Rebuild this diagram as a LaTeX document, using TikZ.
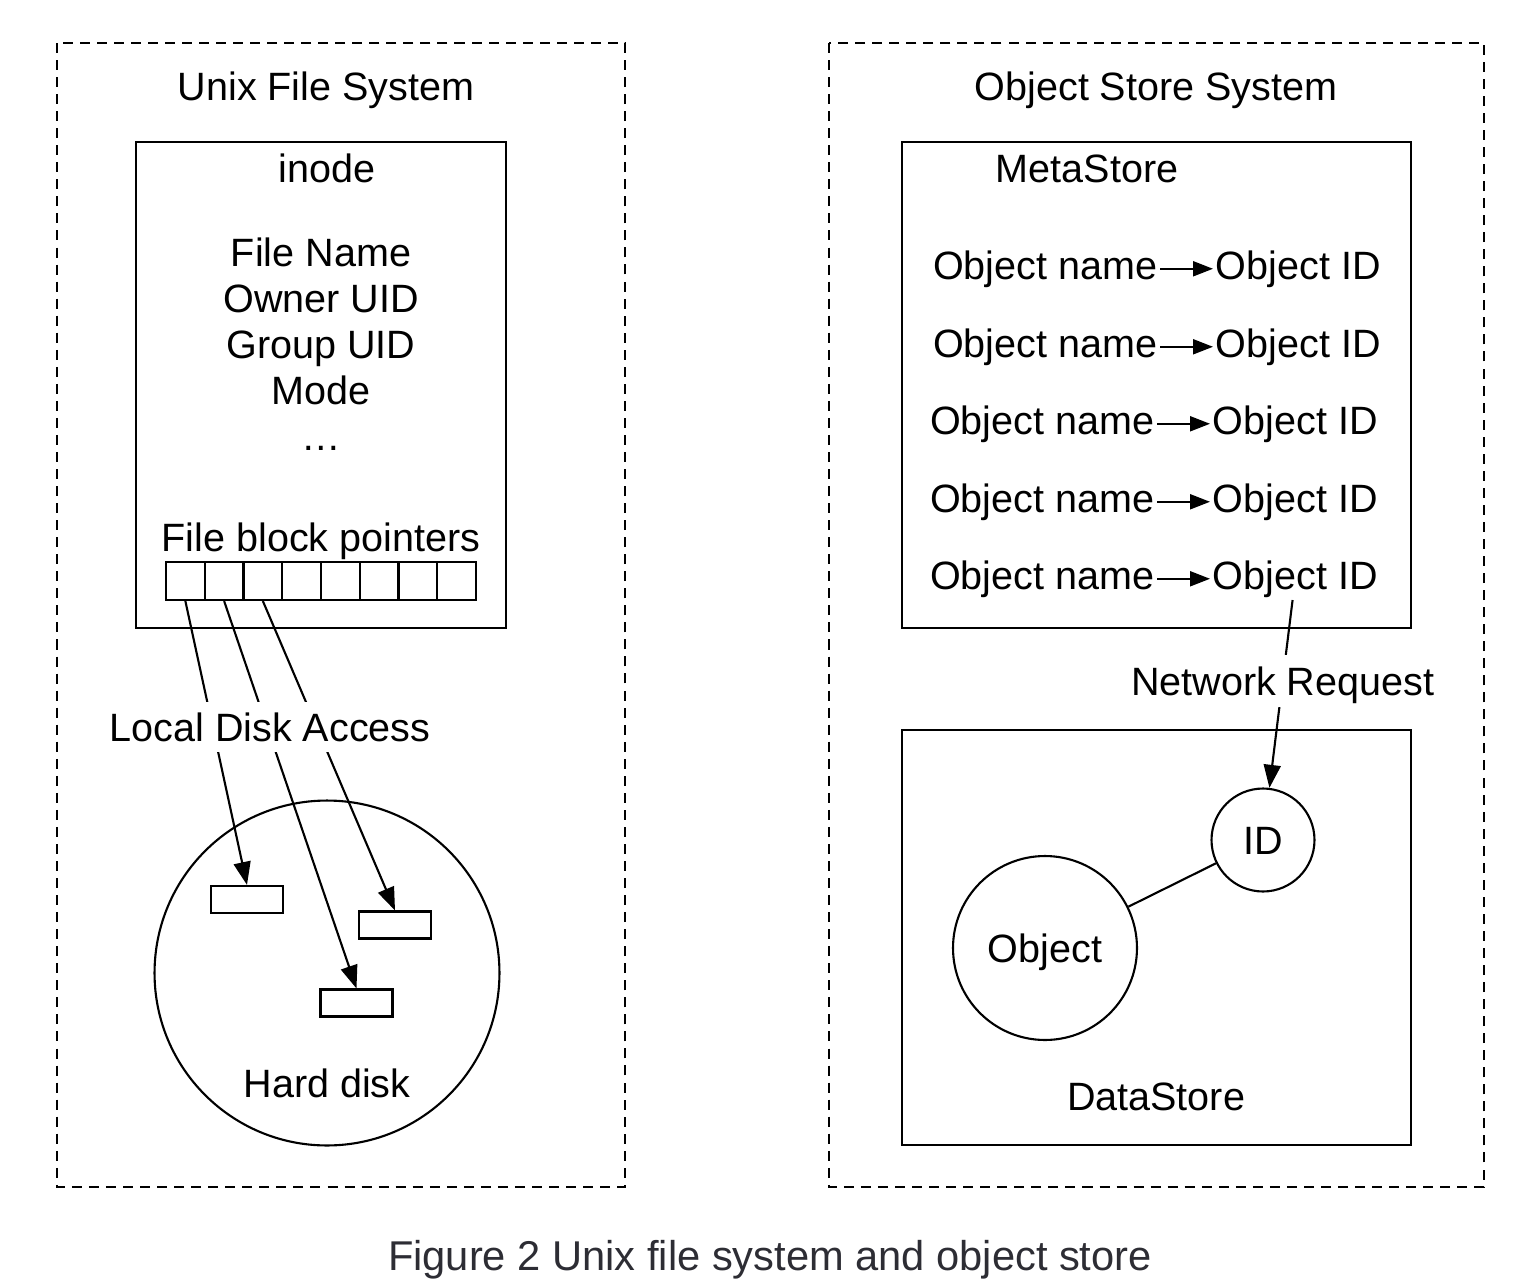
\documentclass[tikz,border=0pt]{standalone}
\usepackage{fontspec}
\setmainfont{Liberation Sans}
\usepackage{tikz}
\usetikzlibrary{arrows.meta}
\definecolor{captiongray}{RGB}{45,45,52}

\begin{document}
\begin{tikzpicture}[x=0.02cm, y=-0.02cm, line width=1.2pt,
    font=\fontsize{22.5}{27}\selectfont,
    lbl/.style={anchor=base, inner sep=1pt},
    box/.style={draw, rectangle, inner sep=0pt},
    cell/.style={draw, rectangle, inner sep=0pt, minimum width=0.775cm, minimum height=0.76cm},
    blk/.style={draw, rectangle, inner sep=0pt, minimum width=1.44cm, minimum height=0.54cm},
    ring/.style={draw, circle, inner sep=0pt, text height=0.568cm, text depth=0pt},
    tip/.style={-{Triangle[length=0.46cm, width=0.34cm]}},
    smalltip/.style={-{Triangle[length=0.4cm, width=0.3cm]}},
    frame/.style={line width=0.9pt, dash pattern=on 5.7pt off 4pt},
    gap/.style={fill=white, inner sep=1pt, text depth=0pt}]
  \useasboundingbox (0,0) rectangle (1522,1288);

  % System frames
  \draw[frame] (57,43) rectangle (625,1187);
  \draw[frame] (829,43) rectangle (1484,1187);
  \node[lbl] (unixtitle) at (326,100) {Unix File System};
  \node[lbl] (objtitle) at (1156,100) {Object Store System};

  % inode
  \node[box, minimum width=7.4cm, minimum height=9.72cm] (inode) at (321,385) {};
  \node[lbl] (inodetitle) at (327,182) {inode};
  \foreach \t/\yb in {File Name/266, Owner UID/312, Group UID/358, Mode/404, …/450}{
    \node[lbl] at (321,\yb) {\t};
  }
  \node[lbl] (ptrtitle) at (321,551) {File block pointers};
  \foreach \i in {1,...,8}{
    \node[cell] (c\i) at ({166+38.75*(\i-0.5)},581) {};
  }

  % Hard disk
  \node[draw, circle, minimum size=6.9cm] (disk) at (327,973) {};
  \node[lbl] (disklabel) at (327,1097) {Hard disk};
  \node[blk] (blkA) at (247,899.5) {};
  \node[blk] (blkB) at (395,925) {};
  \node[blk] (blkC) at (356.5,1003) {};
  \foreach \i/\b in {1/blkA, 2/blkC, 3/blkB}{
    \draw[tip] (c\i.south) -- (\b.north);
  }
  \node[gap, minimum height=1cm] (local) at (270,727) {Local Disk Access};

  % MetaStore
  \node[box, minimum width=10.18cm, minimum height=9.72cm] (meta) at (1156.5,385) {};
  \node[lbl] (metatitle) at (1087,182) {MetaStore};
  \foreach \i/\yb/\dx in {1/279/0, 2/357/0, 3/434/-3, 4/512/-3, 5/589/-3}{
    \node[lbl, anchor=base east] (name\i) at (1160+\dx,\yb) {Object name};
    \node[lbl, anchor=base west] (id\i) at (1213+\dx,\yb) {Object ID};
    \draw[smalltip] (name\i.east) -- (id\i.west);
  }

  % DataStore
  \node[box, minimum width=10.18cm, minimum height=8.3cm] (data) at (1156.5,937.5) {};
  \node[lbl] (datatitle) at (1156,1110) {DataStore};
  \node[ring, minimum size=2.06cm] (idc) at (1263,840) {ID};
  \node[ring, minimum size=3.68cm] (obj) at (1045,948) {Object};
  \draw (obj) -- (idc);

  % Network request
  \draw[tip] (id5) -- node[gap, pos=0.43, minimum height=1.04cm] (net) {Network Request} (idc);

  % Caption
  \node[lbl, text=captiongray, font=\fontsize{23.7}{28}\selectfont] (caption) at (770,1270)
    {Figure 2 Unix file system and object store};
\end{tikzpicture}
\end{document}
